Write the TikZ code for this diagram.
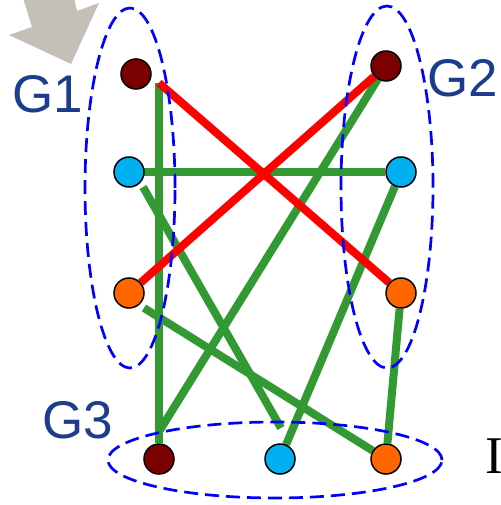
\documentclass[tikz,border=0pt]{standalone}
\usepackage{fontspec}
\setmainfont{Liberation Serif}
\newfontfamily\labelfont{Liberation Sans}
\usetikzlibrary{backgrounds}
\definecolor{cbrown}{RGB}{123,0,0}
\definecolor{cblue}{RGB}{0,176,240}
\definecolor{corange}{RGB}{255,102,0}
\definecolor{cgreen}{RGB}{51,153,51}
\definecolor{cred}{RGB}{255,0,0}
\definecolor{cdash}{RGB}{0,0,255}
\definecolor{ctext}{RGB}{28,61,140}
\definecolor{carrow}{RGB}{196,192,184}
\tikzset{
  vert/.style={circle,draw=black,line width=1.5pt,minimum size=30pt,inner sep=0pt},
  vbrown/.style={vert,fill=cbrown},
  vblue/.style={vert,fill=cblue},
  vorange/.style={vert,fill=corange},
  greenline/.style={draw=cgreen,line width=8pt},
  redline/.style={draw=cred,line width=8pt},
  groupline/.style={draw=cdash,line width=2.7pt,dash pattern=on 14pt off 7pt},
  glabel/.style={text=ctext,inner sep=0pt,anchor=base west,font=\labelfont\fontsize{53}{60}\selectfont}
}
\begin{document}
\begin{tikzpicture}[x=1pt,y=-1pt]
\useasboundingbox (0,0) rectangle (500,505);
% arrow
\fill[carrow] (23,-2) -- (32,27) -- (9,35) -- (71,64) -- (99,3) -- (77,11) -- (74,-2) -- cycle;
% nodes
\node[vbrown]  (g1a) at (136,74) {};
\node[vblue]   (g1b) at (129,172) {};
\node[vorange] (g1c) at (129,293) {};
\node[vbrown]  (g2a) at (386,66) {};
\node[vblue]   (g2b) at (401,172) {};
\node[vorange] (g2c) at (401,293) {};
\node[vbrown]  (g3a) at (159,459) {};
\node[vblue]   (g3b) at (280,459) {};
\node[vorange] (g3c) at (386,459) {};
% helper coordinates
\coordinate (j1) at (159,83);
\coordinate (e5e) at (160,430);
\coordinate (e6s) at (143,187);
\coordinate (e6e) at (281,428);
\coordinate (e8s) at (144,308);
\begin{scope}[on background layer]
\draw[greenline] (j1) -- (g3a);
\draw[greenline] (g1b.center) -- (g2b);
\draw[greenline] (g2a) -- (e5e);
\draw[greenline] (e6s) -- (e6e);
\draw[greenline] (g3b) -- (g2b);
\draw[greenline] (e8s) -- (g3c);
\draw[greenline] (g2c) -- (g3c);
\draw[redline] (j1) -- (g2c);
\draw[redline] (g1c) -- (g2a);
\end{scope}
% group ellipses
\draw[groupline] (130,188) ellipse [x radius=45pt, y radius=180pt];
\draw[groupline] (387,187) ellipse [x radius=46pt, y radius=181pt];
\draw[groupline] (275,460) ellipse [x radius=167pt, y radius=38pt];
% labels
\node[glabel] (l1) at (12.5,113) {G1};
\node[glabel] (l2) at (427.5,97) {G2};
\node[glabel] (l3) at (42.5,438) {G3};
\node[inner sep=0pt,anchor=base west,font=\fontsize{53}{60}\selectfont] (li) at (485,473) {I};
\end{tikzpicture}
\end{document}
